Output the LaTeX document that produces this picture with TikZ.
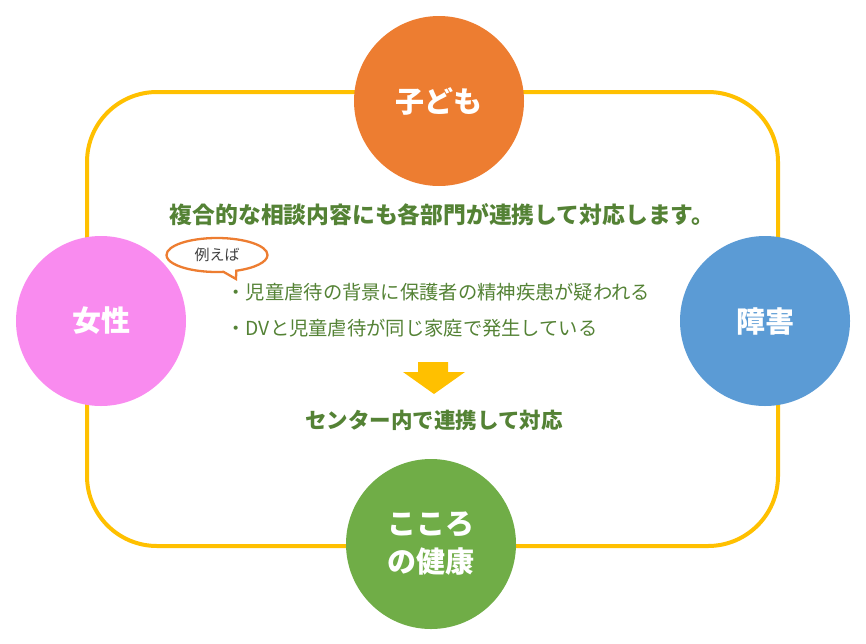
\documentclass[tikz,border=0pt]{standalone}
\usepackage{fontspec}
\setmainfont{Noto Sans CJK JP}
\usetikzlibrary{shapes.geometric,shapes.callouts}

\definecolor{waku}{HTML}{FFC000}
\definecolor{kodomo}{HTML}{ED7D31}
\definecolor{josei}{HTML}{F98BEF}
\definecolor{shogai}{HTML}{5B9BD5}
\definecolor{kokoro}{HTML}{70AD47}
\definecolor{midori}{HTML}{548235}

\begin{document}
\begin{tikzpicture}[x=1pt, y=-1pt,
    bubble/.style={circle, minimum size=170pt, inner sep=0pt, text=white, align=center,
        font=\fontsize{29}{38}\selectfont\bfseries},
    midashi/.style={text=midori, font=\fontsize{21.5}{26}\selectfont\bfseries},
    rei/.style={text=midori, anchor=west, font=\fontsize{19.3}{23}\selectfont}]
    \useasboundingbox (0,0) rectangle (866,643);

    \draw[waku, line width=4pt, rounded corners=70pt] (87,92) rectangle (778,546);

    \node[bubble, fill=kodomo] (kodomo) at (439,101) {子ども};
    \node[bubble, fill=josei] (josei) at (101,321) {女性};
    \node[bubble, fill=shogai] (shogai) at (765,321) {障害};
    \node[bubble, fill=kokoro] (kokoro) at (431,544) {こころ\\の健康};

    \node[midashi, font=\fontsize{22.8}{27}\selectfont\bfseries] (fukugo) at (442,215)
        {複合的な相談内容にも各部門が連携して対応します。};

    \node[ellipse callout, draw=kodomo, line width=2.3pt, fill=white, minimum width=101pt,
        minimum height=34pt, inner sep=0pt, text=black!75,
        font=\fontsize{15}{18}\selectfont, callout absolute pointer={(236,279)}]
        (tatoeba) at (217,255) {例えば};

    \node[rei] (rei1) at (223,292) {・児童虐待の背景に保護者の精神疾患が疑われる};
    \node[rei] (rei2) at (223,328) {・DVと児童虐待が同じ家庭で発生している};

    \fill[waku] (418,362) -- (448,362) -- (448,372) -- (465,372) -- (434,394)
        -- (403,372) -- (418,372) -- cycle;

    \node[midashi] (center) at (434,420) {センター内で連携して対応};
\end{tikzpicture}
\end{document}
